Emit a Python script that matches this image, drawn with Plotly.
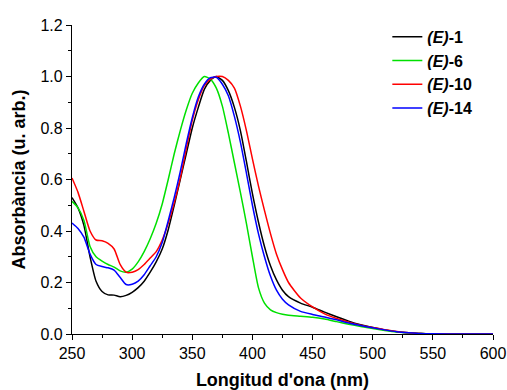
import plotly.graph_objects as go

wavelength = [250, 255, 260, 265, 270, 275, 280, 285, 290, 295, 300, 305, 310, 315, 320,
              325, 330, 335, 340, 345, 350, 355, 360, 365, 370, 375, 380, 385, 390, 395,
              400, 405, 410, 415, 420, 425, 430, 440, 450, 460, 470, 480, 490, 500, 510,
              520, 530, 540, 550, 575, 600]

abs_E1 = [0.53, 0.49, 0.42, 0.30, 0.205, 0.165, 0.152, 0.151, 0.145, 0.150, 0.162, 0.180, 0.205, 0.240, 0.280,
          0.330, 0.405, 0.50, 0.60, 0.70, 0.80, 0.88, 0.95, 0.985, 1.0, 0.985, 0.945, 0.88, 0.79, 0.67,
          0.545, 0.435, 0.34, 0.265, 0.21, 0.17, 0.145, 0.12, 0.104, 0.085, 0.067, 0.05, 0.036, 0.025, 0.016,
          0.009, 0.005, 0.002, 0.001, 0.0, 0.0]

abs_E6 = [0.515, 0.49, 0.44, 0.34, 0.30, 0.283, 0.27, 0.26, 0.245, 0.24, 0.252, 0.28, 0.32, 0.37, 0.43,
          0.505, 0.60, 0.70, 0.79, 0.87, 0.935, 0.975, 1.0, 0.99, 0.955, 0.885, 0.78, 0.665, 0.55, 0.43,
          0.30, 0.18, 0.12, 0.094, 0.083, 0.077, 0.073, 0.069, 0.065, 0.058, 0.048, 0.038, 0.029, 0.021, 0.014,
          0.008, 0.004, 0.002, 0.001, 0.0, 0.0]

abs_E10 = [0.606, 0.55, 0.475, 0.40, 0.365, 0.362, 0.352, 0.33, 0.27, 0.24, 0.24, 0.25, 0.27, 0.295, 0.32,
           0.365, 0.43, 0.51, 0.605, 0.72, 0.83, 0.91, 0.965, 0.99, 1.0, 1.0, 0.985, 0.955, 0.885, 0.79,
           0.68, 0.575, 0.48, 0.39, 0.31, 0.25, 0.20, 0.14, 0.105, 0.078, 0.06, 0.046, 0.034, 0.025, 0.017,
           0.010, 0.005, 0.002, 0.001, 0.0, 0.0]

abs_E14 = [0.431, 0.41, 0.375, 0.31, 0.27, 0.262, 0.257, 0.248, 0.22, 0.192, 0.193, 0.205, 0.23, 0.265, 0.30,
           0.355, 0.44, 0.53, 0.63, 0.74, 0.84, 0.92, 0.97, 0.995, 0.997, 0.97, 0.925, 0.845, 0.745, 0.625,
           0.50, 0.39, 0.30, 0.225, 0.17, 0.135, 0.113, 0.088, 0.076, 0.066, 0.055, 0.043, 0.033, 0.024, 0.016,
           0.009, 0.005, 0.002, 0.001, 0.0, 0.0]

series = [
    ("<b><i>(E)</i>-1</b>", abs_E1, "#000000"),
    ("<b><i>(E)</i>-6</b>", abs_E6, "#00e000"),
    ("<b><i>(E)</i>-10</b>", abs_E10, "#ff0000"),
    ("<b><i>(E)</i>-14</b>", abs_E14, "#0000ff"),
]

fig = go.Figure()
for name, vals, color in series:
    fig.add_trace(go.Scatter(x=wavelength, y=vals, mode="lines", name=name,
                             line=dict(color=color, width=1.5, shape="spline", smoothing=0.6)))

font_family = "Arial, 'Liberation Sans', sans-serif"
fig.update_layout(
    width=507, height=390,
    margin=dict(l=72, r=14, t=25, b=56),
    paper_bgcolor="white", plot_bgcolor="white",
    font=dict(family=font_family, color="black", size=16),
    showlegend=True,
    legend=dict(x=0.749, y=1.017, xanchor="left", yanchor="top",
                font=dict(size=16, family=font_family), bgcolor="rgba(0,0,0,0)",
                tracegroupgap=0, itemwidth=30),
    xaxis=dict(range=[250, 600], dtick=50, tick0=250, showline=True, linecolor="black", linewidth=1.2,
               ticks="outside", ticklen=5, tickwidth=1.2, tickcolor="black", showgrid=False, zeroline=False,
               minor=dict(dtick=25, ticks="outside", ticklen=3, tickwidth=1.2, tickcolor="black", showgrid=False),
               tickfont=dict(size=16), automargin=False,
               title=dict(text="<b>Longitud d'ona (nm)</b>", font=dict(size=18), standoff=18)),
    yaxis=dict(range=[0, 1.2], dtick=0.2, tick0=0, tickformat=".1f", showline=True, linecolor="black", linewidth=1.2,
               ticks="outside", ticklen=5, tickwidth=1.2, tickcolor="black", showgrid=False, zeroline=False,
               minor=dict(dtick=0.1, ticks="outside", ticklen=3, tickwidth=1.2, tickcolor="black", showgrid=False),
               tickfont=dict(size=16), automargin=False,
               title=dict(text="<b>Absorbància (u. arb.)</b>", font=dict(size=18), standoff=10)),
)

# remove the browser's default 8px body margin so the 507x390 figure fills the window exactly
fig.write_html("out.html", config={"displayModeBar": False},
               post_script="document.body.style.margin='0';")
